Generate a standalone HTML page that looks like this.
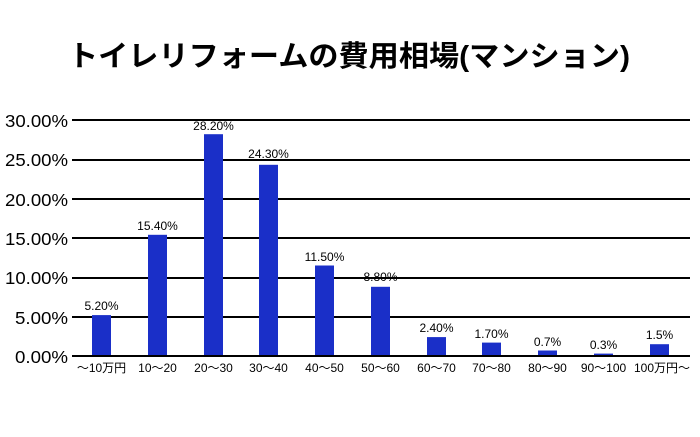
<!DOCTYPE html>
<html><head><meta charset="utf-8"><style>
html,body{margin:0;padding:0;background:#fff;}
svg text{font-family:"Liberation Sans","Noto Sans CJK JP",sans-serif;fill:#000;}
</style></head><body>
<svg width="700" height="432" viewBox="0 0 700 432" xmlns="http://www.w3.org/2000/svg">
<text x="349" y="66" text-anchor="middle" font-size="29" font-weight="bold" textLength="562" lengthAdjust="spacingAndGlyphs">トイレリフォームの費用相場(マンション)</text>
<g stroke="#000" stroke-width="2">
<line x1="72" x2="690" y1="120" y2="120"/>
<line x1="72" x2="690" y1="160" y2="160"/>
<line x1="72" x2="690" y1="199" y2="199"/>
<line x1="72" x2="690" y1="238" y2="238"/>
<line x1="72" x2="690" y1="278" y2="278"/>
<line x1="72" x2="690" y1="317" y2="317"/>
</g>
<g font-size="17.5" text-anchor="end">
<text x="68" y="127" textLength="63" lengthAdjust="spacingAndGlyphs">30.00%</text>
<text x="68" y="166" textLength="63" lengthAdjust="spacingAndGlyphs">25.00%</text>
<text x="68" y="206" textLength="63" lengthAdjust="spacingAndGlyphs">20.00%</text>
<text x="68" y="245" textLength="63" lengthAdjust="spacingAndGlyphs">15.00%</text>
<text x="68" y="284" textLength="63" lengthAdjust="spacingAndGlyphs">10.00%</text>
<text x="68" y="324" textLength="53" lengthAdjust="spacingAndGlyphs">5.00%</text>
<text x="68" y="363" textLength="53" lengthAdjust="spacingAndGlyphs">0.00%</text>
</g>
<g fill="#1a2fc8">
<rect x="92" y="315.1" width="19" height="40.9"/>
<rect x="148" y="234.8" width="19" height="121.2"/>
<rect x="204" y="134.2" width="19" height="221.8"/>
<rect x="259" y="164.8" width="19" height="191.2"/>
<rect x="315" y="265.5" width="19" height="90.5"/>
<rect x="371" y="286.8" width="19" height="69.2"/>
<rect x="427" y="337.1" width="19" height="18.9"/>
<rect x="482" y="342.6" width="19" height="13.4"/>
<rect x="538" y="350.5" width="19" height="5.5"/>
<rect x="594" y="353.6" width="19" height="2.4"/>
<rect x="650" y="344.2" width="19" height="11.8"/>
</g>
<line x1="72" x2="690" y1="356" y2="356" stroke="#000" stroke-width="2"/>
<g font-size="12" text-anchor="middle">
<text x="101.5" y="310">5.20%</text>
<text x="157.5" y="230">15.40%</text>
<text x="213.5" y="130">28.20%</text>
<text x="268.5" y="158">24.30%</text>
<text x="324.5" y="261">11.50%</text>
<text x="380.5" y="281">8.80%</text>
<text x="436.5" y="332">2.40%</text>
<text x="491.5" y="338">1.70%</text>
<text x="547.5" y="346">0.7%</text>
<text x="603.5" y="349">0.3%</text>
<text x="659.5" y="339">1.5%</text>
</g>
<g font-size="12" text-anchor="middle">
<text x="101.5" y="372">～10万円</text>
<text x="157.5" y="372">10～20</text>
<text x="213.5" y="372">20～30</text>
<text x="268.5" y="372">30～40</text>
<text x="324.5" y="372">40～50</text>
<text x="380.5" y="372">50～60</text>
<text x="436.5" y="372">60～70</text>
<text x="491.5" y="372">70～80</text>
<text x="547.5" y="372">80～90</text>
<text x="603.5" y="372">90～100</text>
<text x="662" y="372">100万円～</text>
</g>
</svg>
</body></html>
